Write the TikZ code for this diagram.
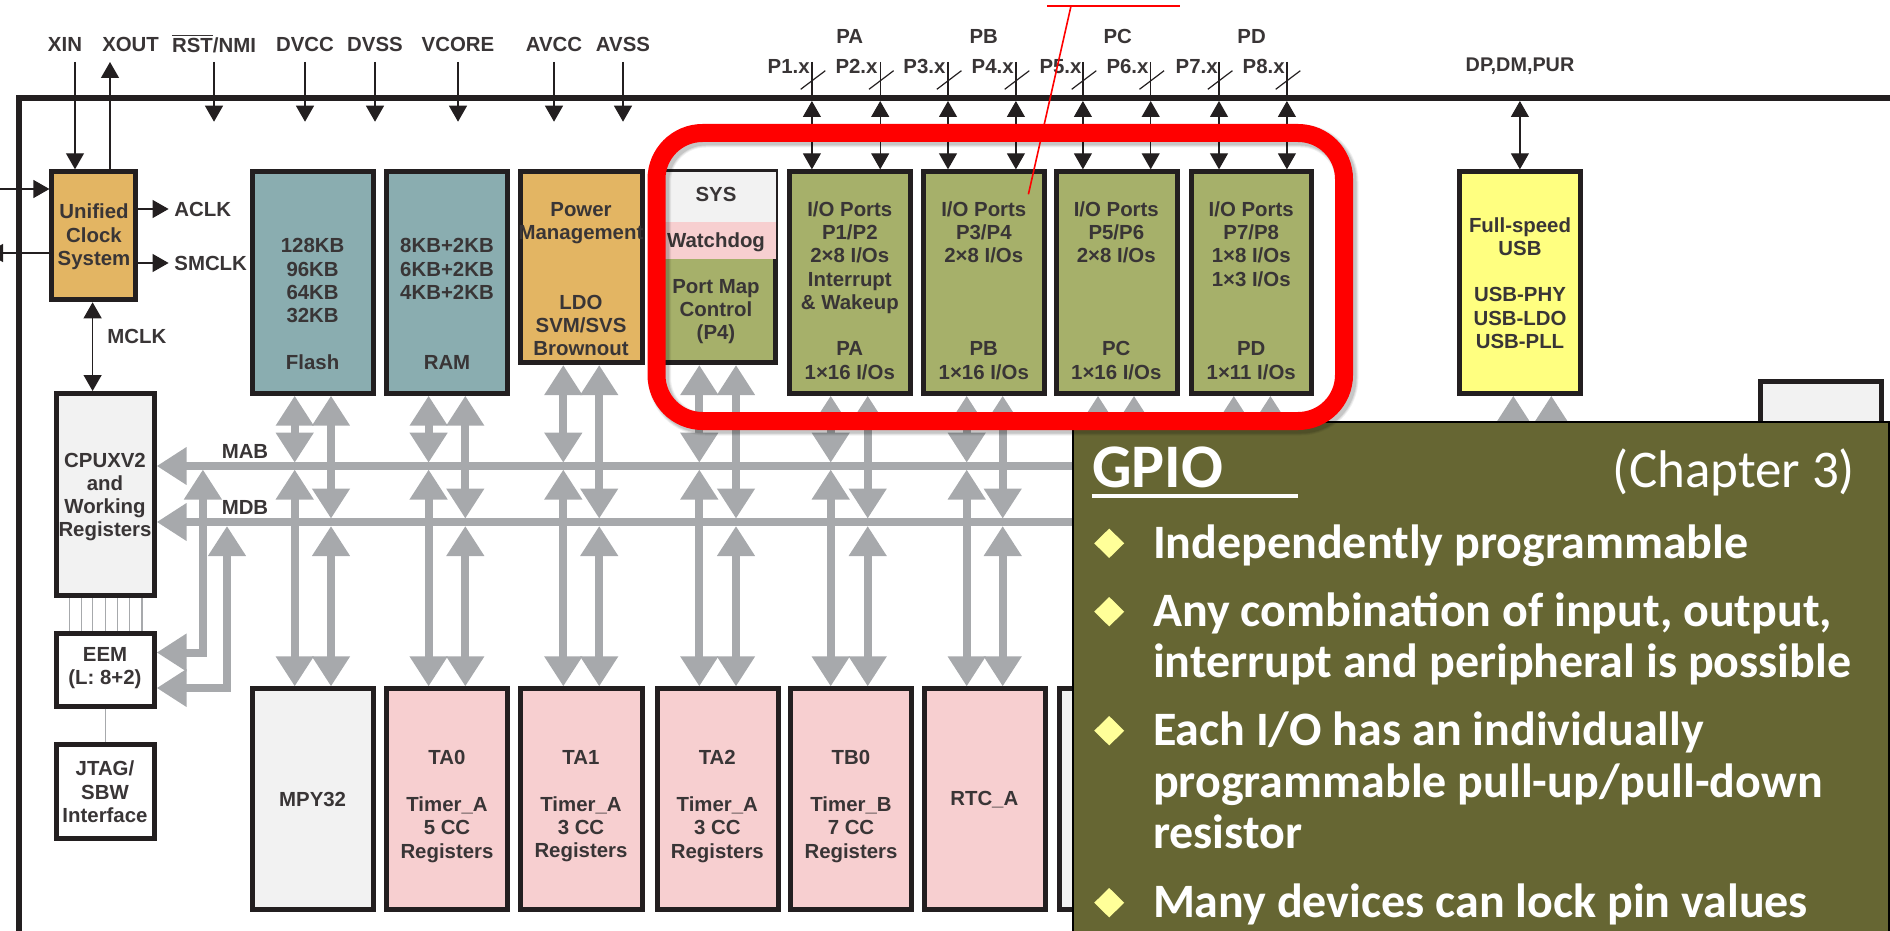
\documentclass[tikz,border=0pt]{standalone}
\usepackage{fontspec}
\usetikzlibrary{arrows.meta}
\newfontfamily\dgfont{Liberation Sans}
\newfontfamily\pnfont{Carlito}
\definecolor{ink}{HTML}{231F20}
\definecolor{barg}{HTML}{A7A9AC}
\definecolor{teal}{HTML}{8AADB0}
\definecolor{orng}{HTML}{E3B563}
\definecolor{oliv}{HTML}{A6B06A}
\definecolor{pnk}{HTML}{F7CFD0}
\definecolor{lgr}{HTML}{F2F2F2}
\definecolor{ylw}{HTML}{FFFF80}
\definecolor{panelc}{HTML}{666633}
\definecolor{bull}{HTML}{FFFF99}
\tikzset{
  x=0.5pt,y=-0.5pt,
  blkbox/.style={draw=ink,line width=2.5pt,inner sep=0pt},
  txt/.style={font=\dgfont\bfseries\fontsize{10.2}{11.65}\selectfont,text=ink!90,align=center,inner sep=0pt},
  thin arrow/.style={draw=ink,line width=0.6pt},
  harrow/.style={thin arrow,-{Triangle[length=8pt,width=9pt]}},
  darrow/.style={thin arrow,{Triangle[length=8pt,width=9pt]}-{Triangle[length=8pt,width=9pt]}},
  gbar/.style={draw=barg,line width=4pt},
  gboth/.style={gbar,{Triangle[length=15pt,width=18pt]}-{Triangle[length=15pt,width=18pt]}},
  gone/.style={gbar,-{Triangle[length=15pt,width=18pt]}},
  gstart/.style={gbar,{Triangle[length=15pt,width=18pt]}-},
  glink/.style={draw=barg,line width=0.6pt},
  slashline/.style={draw=ink,line width=0.6pt},
  pntxt/.style={font=\pnfont\fontsize{24}{28}\selectfont\bfseries,text=white,align=left,inner sep=0pt,anchor=base west},
  bulletd/.style={fill=bull},
}
% name, fill, x1, y1, x2, y2 (outer edges, pixels)
\newcommand\blk[6]{\node[blkbox,fill=#2,minimum width={(#5-#3-5)*0.5pt},minimum height={(#6-#4-5)*0.5pt}] (#1) at ({(#3+#5)/2},{(#4+#6)/2}) {};}
% column landing on MAB: x, upper block, lower block
\newcommand\colmab[3]{%
  \draw[gboth] (#1,0 |- #2.south) -- (#1,0 |- mabT);
  \draw[gboth] (#1,0 |- mabB) -- (#1,0 |- #3.north);}
\newcommand\colmdb[3]{%
  \draw[gboth] (#1,0 |- #2.south) -- (#1,0 |- mdbT);
  \draw[gboth] (#1,0 |- mdbB) -- (#1,0 |- #3.north);}
\begin{document}
\begin{tikzpicture}
\useasboundingbox (0,0) rectangle (1890,931);
\clip (0,0) rectangle (1890,931);
\coordinate (mabT) at (0,462.7);
\coordinate (mabB) at (0,469.5);
\coordinate (mdbT) at (0,518.6);
\coordinate (mdbB) at (0,526);
\coordinate (framepin) at (0,101);
\coordinate (pintop) at (0,62);
\coordinate (padrop) at (0,121.7);
% frame
\draw[ink,line width=3pt] (18.8,940) -- (18.8,97.7) -- (1900,97.7);
% blocks
\blk{ucs}{orng}{49.4}{169.3}{138}{302.3}
\blk{flash}{teal}{250.2}{169.3}{376.3}{395.7}
\blk{ram}{teal}{384}{169.3}{510}{395.7}
\blk{pwr}{orng}{518.4}{169.3}{644.5}{365}
\blk{sysb}{oliv}{658}{169.3}{778.4}{365}
\blk{pa}{oliv}{787.3}{169.3}{913.2}{395.7}
\blk{pb}{oliv}{921.3}{169.3}{1047}{395.7}
\blk{pc}{oliv}{1053.8}{169.3}{1180}{395.7}
\blk{pd}{oliv}{1188.7}{169.3}{1314}{395.7}
\blk{usb}{ylw}{1456.9}{169.3}{1582.9}{395.7}
\blk{rbox}{lgr}{1758}{379}{1884}{500}
\blk{cpu}{lgr}{54.3}{391}{156.7}{598}
\blk{eem}{white}{54.3}{630.5}{156.7}{708.5}
\blk{jtag}{white}{54.3}{742.4}{156.7}{841.4}
\blk{mpy}{lgr}{250.2}{686.4}{376.3}{911.9}
\blk{ta0}{pnk}{384}{686.4}{510}{911.9}
\blk{ta1}{pnk}{518.4}{686.4}{644.7}{911.9}
\blk{ta2}{pnk}{654.7}{686.4}{781}{911.9}
\blk{tb0}{pnk}{788}{686.4}{914.3}{911.9}
\blk{rtc}{pnk}{921.7}{686.4}{1048.3}{911.9}
\blk{nxt}{lgr}{1056.7}{686.4}{1180}{911.9}
% sys sections
\fill[lgr] (661,172) rectangle (775.9,221.7);
\fill[pnk] (661,221.7) rectangle (775.9,259);
% buses
\coordinate (busend) at (1100,0);
\draw[gone] (busend |- 0,466) -- (cpu.east |- 0,466);
\draw[gone] (busend |- 0,522) -- (cpu.east |- 0,522);
\colmab{294.7}{flash}{mpy}
\colmdb{331}{flash}{mpy}
\colmab{428.6}{ram}{ta0}
\colmdb{465.3}{ram}{ta0}
\colmab{563.3}{pwr}{ta1}
\colmdb{599.2}{pwr}{ta1}
\colmab{699.3}{sysb}{ta2}
\colmdb{736}{sysb}{ta2}
\colmab{830.7}{pa}{tb0}
\colmdb{867.7}{pa}{tb0}
\colmab{966.7}{pb}{rtc}
\colmdb{1002.7}{pb}{rtc}
\draw[gstart] (1098,0 |- pc.south) -- (1098,440);
\draw[gstart] (1134,0 |- pc.south) -- (1134,440);
\draw[gstart] (1233.8,0 |- pd.south) -- (1233.8,440);
\draw[gstart] (1270.4,0 |- pd.south) -- (1270.4,440);
\draw[gstart] (1513.3,0 |- usb.south) -- (1513.3,440);
\draw[gstart] (1551.3,0 |- usb.south) -- (1551.3,440);
% EEM feeds
\coordinate (eemA) at (0,652.5);
\coordinate (eemB) at (0,688);
\draw[gbar,{Triangle[length=15pt,width=18pt]}-{Triangle[length=15pt,width=18pt]}] (202.9,0 |- mabB) -- (202.9,0 |- eemA) -- (eem.east |- eemA);
\draw[gbar,{Triangle[length=15pt,width=18pt]}-{Triangle[length=15pt,width=18pt]}] (227,0 |- mdbB) -- (227,0 |- eemB) -- (eem.east |- eemB);
% CPU-EEM links
\foreach \lx in {69.4,81.6,92.6,105.3,117.1,129.4,142} \draw[glink] (\lx,0 |- cpu.south) -- (\lx,0 |- eem.north);
\draw[glink] (eem.south) -- (jtag.north);
% clock arrows
\coordinate (xinC) at (75,62);
\coordinate (xoutC) at (110,62);
\draw[harrow] (xinC) -- (xinC |- ucs.north);
\draw[harrow] (xoutC |- ucs.north) -- (xoutC);
\coordinate (lin) at (0,189);
\coordinate (lout) at (-13,253);
\draw[harrow] (lin) -- (ucs.west |- lin);
\draw[harrow] (ucs.west |- lout) -- (lout);
\coordinate (aclkP) at (168.6,209);
\coordinate (smclkP) at (168.6,263);
\draw[harrow] (ucs.east |- aclkP) -- (aclkP);
\draw[harrow] (ucs.east |- smclkP) -- (smclkP);
\draw[darrow] (92.6,0 |- ucs.south) -- (92.6,0 |- cpu.north);
% supply pins
\foreach \lbl/\nm/\tx/\ax in {XIN/xin/65/-1,XOUT/xout/130.6/-1,{$\overline{\mbox{RST}}$/NMI}/rst/214/214,DVCC/dvcc/305/305,DVSS/dvss/375/375,VCORE/vcore/458/458,AVCC/avcc/554/554,AVSS/avss/623/623}{
  \node[txt] (\nm) at (\tx,44) {\lbl};
  \ifdim\ax pt>0pt
    \draw[harrow] (\ax,0 |- pintop) -- (\ax,0 |- padrop);
  \fi
}
% port pins
\foreach \plbl/\pnm/\tx/\lx/\blkn in {P1.x/p1/788.7/811.9/pa,P2.x/p2/856.5/880.2/pa,P3.x/p3/924.4/948/pb,P4.x/p4/992.7/1015.9/pb,P5.x/p5/1060.5/1082.9/pc,P6.x/p6/1127.5/1150.7/pc,P7.x/p7/1196.7/1219/pd,P8.x/p8/1263.7/1286.9/pd}{
  \node[txt] (\pnm) at (\tx,66.7) {\plbl};
  \draw[slashline] (\lx,0 |- pintop) -- (\lx,0 |- framepin);
  \draw[darrow] (\lx,0 |- framepin) -- (\lx,0 |- \blkn.north);
  \draw[slashline] ({\lx-11.2},89.3) -- ({\lx+13.4},70.7);
}
\foreach \lbl/\tx in {PA/849.8,PB/983.8,PC/1117.7,PD/1251.6}
  \node[txt] (top\lbl) at (\tx,36) {\lbl};
% USB pin
\node[txt,font=\dgfont\bfseries\fontsize{9.9}{11}\selectfont] (dpdm) at (1520,66.7) {DP,DM,PUR};
\draw[darrow] (usb.north |- framepin) -- (usb.north);
% labels
\node[txt,anchor=west] (aclkT) at (174,209) {ACLK};
\node[txt,anchor=west] (smclkT) at (174,263) {SMCLK};
\node[txt,anchor=west] (mclkT) at (107,336) {MCLK};
\node[txt] (mabT1) at (245,451.5) {MAB};
\node[txt] (mdbT1) at (245,507.8) {MDB};
% block text
\node[txt] (ucsT) at (94,237) {Unified\\Clock\\System};
\node[txt] (flashT) at (312.6,304) {128KB\\96KB\\64KB\\32KB\\~\\Flash};
\node[txt] (ramT) at (447,304) {8KB+2KB\\6KB+2KB\\4KB+2KB\\~\\~\\RAM};
\node[txt] (pwrT) at (581,279) {Power\\Management\\~\\~\\LDO\\SVM/SVS\\Brownout};
\node[txt] (sysT) at (716,194) {SYS};
\node[txt] (wdT) at (716,242) {Watchdog};
\node[txt] (pmT) at (716,311.7) {Port Map\\Control\\(P4)};
\node[txt] (paT) at (849.8,290.5) {I/O Ports\\P1/P2\\2×8 I/Os\\Interrupt\\\& Wakeup\\~\\PA\\1×16 I/Os};
\node[txt] (pbT) at (983.8,290.5) {I/O Ports\\P3/P4\\2×8 I/Os\\~\\~\\~\\PB\\1×16 I/Os};
\node[txt] (pcT) at (1116.3,290.5) {I/O Ports\\P5/P6\\2×8 I/Os\\~\\~\\~\\PC\\1×16 I/Os};
\node[txt] (pdT) at (1251.2,290.5) {I/O Ports\\P7/P8\\1×8 I/Os\\1×3 I/Os\\~\\~\\PD\\1×11 I/Os};
\node[txt] (usbT) at (1520,283) {Full-speed\\USB\\~\\USB-PHY\\USB-LDO\\USB-PLL};
\node[txt] (cpuT) at (105,497) {CPUXV2\\and\\Working\\Registers};
\node[txt] (eemT) at (105,668) {EEM\\(L: 8+2)};
\node[txt] (jtagT) at (105,792) {JTAG/\\SBW\\Interface};
\node[txt] (mpyT) at (312.6,799.3) {MPY32};
\node[txt] (ta0T) at (447,806.5) {TA0\\~\\Timer\_A\\5 CC\\Registers};
\node[txt] (ta1T) at (581,806.5) {TA1\\~\\Timer\_A\\3 CC\\Registers};
\node[txt] (ta2T) at (717.3,806.5) {TA2\\~\\Timer\_A\\3 CC\\Registers};
\node[txt] (tb0T) at (851,806.5) {TB0\\~\\Timer\_B\\7 CC\\Registers};
\node[txt] (rtcT) at (984.3,799.3) {RTC\_A};
% panel
\node[draw=black,line width=1pt,fill=panelc,minimum width={(1887.5-1071.6)*0.5pt},minimum height={(960-420.5)*0.5pt},inner sep=0pt,anchor=north west] (panel) at (1071.6,420.5) {};
\node[pntxt,font=\pnfont\fontsize{31}{36}\selectfont\bfseries] (gpio) at (1091.8,487.5) {GPIO};
\coordinate (gpioEnd) at (1298,495.7);
\draw[white,line width=2pt] (gpio.west |- gpioEnd) -- (gpioEnd);
\node[pntxt,anchor=base east,font=\pnfont\fontsize{26.5}{30}\selectfont] (chap) at (1855.5,487.5) {(Chapter 3)};
\foreach \by in {543.3,611.7,730.7,902.7}
  \fill[bulletd] (1094.2,\by) -- (1109.2,{\by-14.7}) -- (1124.2,\by) -- (1109.2,{\by+14.7}) -- cycle;
\node[pntxt] (b1) at (1152.6,558) {Independently programmable};
\node[pntxt] (b2a) at (1152.6,626) {Any combination of input, output,};
\node[pntxt] (b2b) at (1152.6,677.5) {interrupt and peripheral is possible};
\node[pntxt] (b3a) at (1152.6,745) {Each I/O has an individually};
\node[pntxt] (b3b) at (1152.6,797) {programmable pull-up/pull-down};
\node[pntxt] (b3c) at (1152.6,848.5) {resistor};
\node[pntxt] (b4) at (1152.6,917) {Many devices can lock pin values};
% red highlight
\foreach \w/\op in {11.5/0.06,10.5/0.08,9.5/0.1}
  \draw[black,opacity=\op,line width=\w pt,rounded corners=23pt] (659.5,136) rectangle (1347,424);
\draw[red,line width=9pt,rounded corners=23pt] (656.5,133) rectangle (1344,421);
\coordinate (ldA) at (1047,6);
\coordinate (ldB) at (1180,6);
\coordinate (ldC) at (1071,6);
\coordinate (ldD) at (1028.4,194.3);
\draw[red,line width=0.9pt] (ldA) -- (ldB);
\draw[red,line width=0.8pt] (ldC) -- (ldD);
\end{tikzpicture}
\end{document}
